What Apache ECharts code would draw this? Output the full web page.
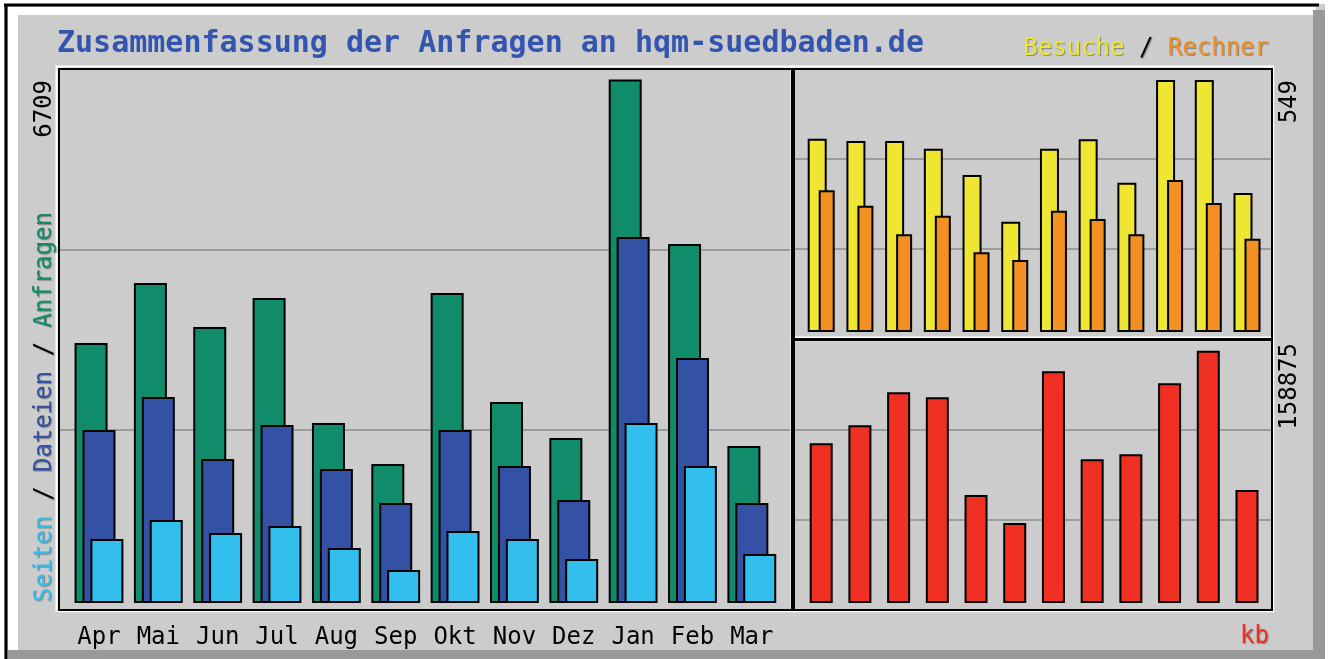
<!DOCTYPE html>
<html><head><meta charset="utf-8">
<script src="https://cdn.jsdelivr.net/npm/echarts@6/dist/echarts.min.js"></script>
<style>html,body{margin:0;padding:0;background:#fff}#c{width:1329px;height:659px}</style>
</head><body><div id="c"></div>
<script>
// ---- data ----
const months   = ['Apr','Mai','Jun','Jul','Aug','Sep','Okt','Nov','Dez','Jan','Feb','Mar'];
const anfragen = [3332,4101,3537,3909,2307,1781,3973,2576,2115,6709,4601,2012];
const dateien  = [2217,2640,1846,2281,1717,1282,2217,1756,1320,4691,3140,1282];
const seiten   = [820,1064,897,987,705,423,923,820,564,2307,1756,628];
const besuche  = [421,416,416,399,342,240,399,420,325,549,549,303];
const rechner  = [309,275,213,253,174,157,264,246,213,331,281,203];
const kbytes   = [100640,111960,132700,129570,67930,50320,145920,90570,93720,138380,158875,71080];
const titleText = 'Zusammenfassung der Anfragen an hqm-suedbaden.de';

// ---- layout / style ----
const FONT = '"DejaVu Sans Mono", monospace';
const C = {green:'#118c6b', blue:'#3352a6', cyan:'#33bfee', yellow:'#efe633', orange:'#f29122',
           red:'#ef3022', bg:'#cccccc', grid:'#9c9c9c', title:'#3355b0'};
const boxL  = {x:59,  y:69,  w:733, h:541};
const boxTR = {x:794, y:69,  w:478, h:270};
const boxBR = {x:794, y:340, w:478, h:270};
const barL  = {left:69.3,  top:69,  width:712.2, height:541};
const barTR = {left:801.85, top:69,  width:464.5, height:270};
const barBR = {left:801.85, top:340, width:464.5, height:270};

function span(maxVal, h, padBottom, padTop) {
  const unit = maxVal / (h - padBottom - padTop);
  return {min: -padBottom * unit, max: maxVal + padTop * unit};
}
const maxL = Math.max(...anfragen), maxTR = Math.max(...besuche), maxBR = Math.max(...kbytes);
const rL = span(maxL, barL.height, 7, 10.5);
const rTR = span(maxTR, barTR.height, 7, 11);
const rBR = span(maxBR, barBR.height, 7, 10.7);

const border = {borderColor:'#000', borderWidth:2};
const shadow = {textShadowColor:'rgba(60,60,60,0.5)', textShadowOffsetX:1, textShadowOffsetY:1, textShadowBlur:1,
                shadowColor:'rgba(60,60,60,0.5)', shadowOffsetX:1, shadowOffsetY:1, shadowBlur:1};

function boxGraphics(b) {
  return [
    {type:'polyline', shape:{points:[[b.x-2.5,b.y+b.h+2],[b.x-2.5,b.y-2.5],[b.x+b.w+2,b.y-2.5]]}, style:{stroke:'#fff', lineWidth:2, fill:null}, z:100},
    {type:'polyline', shape:{points:[[b.x+b.w+1.5,b.y-1],[b.x+b.w+1.5,b.y+b.h+1.5],[b.x-1,b.y+b.h+1.5]]}, style:{stroke:'#fff', lineWidth:1.5, fill:null}, z:100},
    {type:'rect', shape:{x:b.x, y:b.y, width:b.w, height:b.h}, style:{stroke:'#000', lineWidth:2, fill:null}, z:101}
  ];
}
function rich(parts) {
  const r = {};
  for (const k in parts) r[k] = Object.assign({fill:parts[k], font:'24px ' + FONT}, shadow);
  return r;
}

const chart = echarts.init(document.getElementById('c'), null, {renderer:'canvas'});
const hiddenCat = (gi) => ({type:'category', gridIndex:gi, data:months, show:false});
const gridAxisY = (gi) => ({type:'value', gridIndex:gi, min:0, max:3, interval:1,
  axisLine:{show:false}, axisTick:{show:false}, axisLabel:{show:false},
  splitLine:{show:true, lineStyle:{color:C.grid, width:2}}});

chart.setOption({
  animation:false,
  backgroundColor:C.bg,
  grid:[
    {left:barL.left, top:barL.top, width:barL.width, height:barL.height},
    {left:barTR.left, top:barTR.top, width:barTR.width, height:barTR.height},
    {left:barBR.left, top:barBR.top, width:barBR.width, height:barBR.height},
    {left:boxL.x, top:boxL.y, width:boxL.w, height:boxL.h},
    {left:boxTR.x, top:boxTR.y, width:boxTR.w, height:boxTR.h},
    {left:boxBR.x, top:boxBR.y, width:boxBR.w, height:boxBR.h}
  ],
  xAxis:[
    {type:'category', gridIndex:0, data:months, axisLine:{show:false}, axisTick:{show:false},
     axisLabel:{interval:0, margin:16, color:'#000', fontFamily:FONT, fontSize:24}},
    hiddenCat(1), hiddenCat(2),
    {type:'value', gridIndex:3, min:0, max:1, show:false},
    {type:'value', gridIndex:4, min:0, max:1, show:false},
    {type:'value', gridIndex:5, min:0, max:1, show:false}
  ],
  yAxis:[
    {type:'value', gridIndex:0, min:rL.min, max:rL.max, show:false},
    {type:'value', gridIndex:1, min:rTR.min, max:rTR.max, show:false},
    {type:'value', gridIndex:2, min:rBR.min, max:rBR.max, show:false},
    gridAxisY(3), gridAxisY(4), gridAxisY(5)
  ],
  series:[
    {name:'Anfragen', type:'bar', xAxisIndex:0, yAxisIndex:0, data:anfragen, barWidth:33, barGap:'-76%',
     itemStyle:Object.assign({color:C.green}, border), silent:true},
    {name:'Dateien', type:'bar', xAxisIndex:0, yAxisIndex:0, data:dateien, barWidth:33, barGap:'-76%',
     itemStyle:Object.assign({color:C.blue}, border), silent:true},
    {name:'Seiten', type:'bar', xAxisIndex:0, yAxisIndex:0, data:seiten, barWidth:33, barGap:'-76%',
     itemStyle:Object.assign({color:C.cyan}, border), silent:true},
    {name:'Besuche', type:'bar', xAxisIndex:1, yAxisIndex:1, data:besuche, barWidth:19, barGap:'-42.1%',
     itemStyle:Object.assign({color:C.yellow}, border), silent:true},
    {name:'Rechner', type:'bar', xAxisIndex:1, yAxisIndex:1, data:rechner, barWidth:16, barGap:'-42.1%',
     itemStyle:Object.assign({color:C.orange}, border), silent:true},
    {name:'kb', type:'bar', xAxisIndex:2, yAxisIndex:2, data:kbytes, barWidth:23,
     itemStyle:Object.assign({color:C.red}, border), silent:true}
  ],
  graphic:{elements:[
    // outer frame
    {type:'rect', shape:{x:0, y:0, width:1329, height:4}, style:{fill:'#fff'}, z:90},
    {type:'rect', shape:{x:0, y:0, width:4, height:659}, style:{fill:'#fff'}, z:90},
    {type:'rect', shape:{x:1325, y:0, width:4, height:659}, style:{fill:'#fff'}, z:90},
    {type:'rect', shape:{x:8, y:7, width:1308, height:8}, style:{fill:'#fff'}, z:91},
    {type:'rect', shape:{x:8, y:7, width:10, height:645}, style:{fill:'#fff'}, z:91},
    {type:'rect', shape:{x:1313, y:10, width:12, height:649}, style:{fill:'#999'}, z:92},
    {type:'rect', shape:{x:8, y:650, width:1317, height:9}, style:{fill:'#999'}, z:92},
    {type:'line', shape:{x1:4, y1:5, x2:1319, y2:5}, style:{stroke:'#000', lineWidth:3}, z:93},
    {type:'line', shape:{x1:6, y1:4, x2:6, y2:659}, style:{stroke:'#000', lineWidth:3}, z:93},
    ...boxGraphics(boxL), ...boxGraphics(boxTR), ...boxGraphics(boxBR),
    // title
    {type:'text', x:57, y:44, z:110, style:{text:titleText, font:'bold 30px ' + FONT, fill:C.title, verticalAlign:'middle'}},
    // legend top right
    {type:'text', x:1269, y:49, z:110, style:Object.assign({
      text:'{v|Besuche}{s| / }{r|Rechner}', align:'right', verticalAlign:'middle', font:'24px ' + FONT,
      rich:rich({v:C.yellow, s:'#000', r:C.orange})}, shadow)},
    {type:'text', x:1269, y:637, z:110, style:Object.assign({text:'kb', align:'right', verticalAlign:'middle', font:'24px ' + FONT, fill:C.red}, shadow)},
    // rotated left labels
    {type:'text', x:45, y:80, rotation:Math.PI/2, z:110, style:{text:String(maxL), align:'right', verticalAlign:'middle', font:'24px ' + FONT, fill:'#000'}},
    {type:'text', x:45, y:602, rotation:Math.PI/2, z:110, style:Object.assign({
      text:'{p|Seiten}{s| / }{f|Dateien}{s| / }{h|Anfragen}', align:'left', verticalAlign:'middle', font:'24px ' + FONT,
      rich:rich({p:C.cyan, s:'#000', f:C.blue, h:C.green})}, shadow)},
    // rotated right labels
    {type:'text', x:1290, y:80, rotation:Math.PI/2, z:110, style:{text:String(maxTR), align:'right', verticalAlign:'middle', font:'24px ' + FONT, fill:'#000'}},
    {type:'text', x:1290, y:343, rotation:Math.PI/2, z:110, style:{text:String(maxBR), align:'right', verticalAlign:'middle', font:'24px ' + FONT, fill:'#000'}}
  ]}
});
</script>
</body></html>
